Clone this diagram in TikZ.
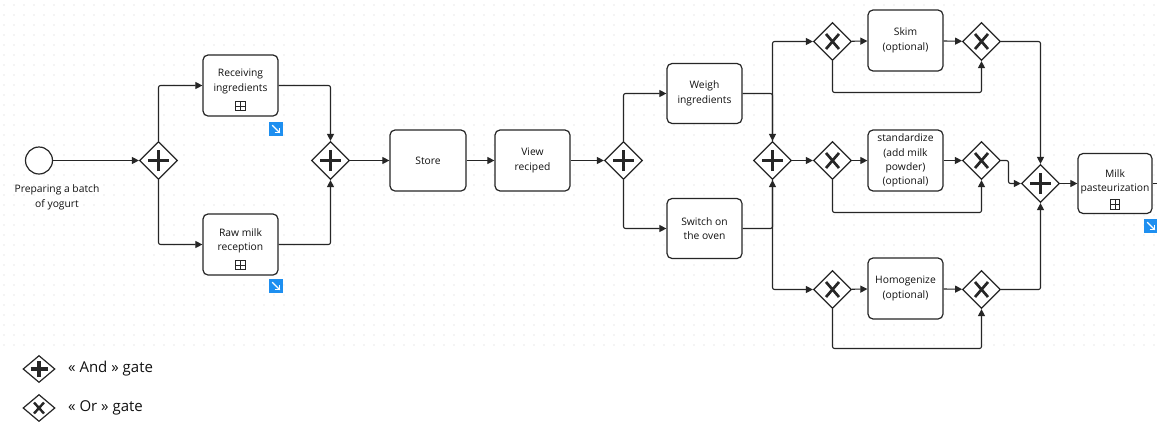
\documentclass[tikz,border=0pt]{standalone}
\usepackage{fontspec}
\setmainfont{Open Sans}
\usetikzlibrary{shapes.geometric,arrows.meta,calc}
\definecolor{ln}{HTML}{262626}
\definecolor{txt}{HTML}{111111}
\definecolor{bpmblue}{HTML}{1E8FF0}
\definecolor{dotc}{HTML}{D2D2D2}
\tikzset{
  task/.style={draw=ln, rounded corners=5pt, line width=1.2pt, minimum width=75, minimum height=61,
    align=center, inner sep=1pt, font=\fontsize{10.3}{14.4}\selectfont, fill=white, text=txt},
  gw/.style={diamond, draw=ln, line width=1.2pt, minimum width=38, minimum height=38, inner sep=0pt, fill=white},
  andgw/.style={gw, path picture={
      \draw[ln, line width=3.4pt] ([xshift=-10.5pt]path picture bounding box.center) -- ([xshift=10.5pt]path picture bounding box.center);
      \draw[ln, line width=3.4pt] ([yshift=-10.5pt]path picture bounding box.center) -- ([yshift=10.5pt]path picture bounding box.center);}},
  xorgw/.style={gw, path picture={
      \draw[ln, line width=2.7pt] ([shift={(-6.5pt,-7.5pt)}]path picture bounding box.center) -- ([shift={(6.5pt,7.5pt)}]path picture bounding box.center);
      \draw[ln, line width=2.7pt] ([shift={(-6.5pt,7.5pt)}]path picture bounding box.center) -- ([shift={(6.5pt,-7.5pt)}]path picture bounding box.center);}},
  legand/.style={diamond, draw=ln, line width=1.2pt, minimum width=32, minimum height=27, inner sep=0pt, fill=white, path picture={
      \draw[ln, line width=3.2pt] ([xshift=-8.5pt]path picture bounding box.center) -- ([xshift=8.5pt]path picture bounding box.center);
      \draw[ln, line width=3.2pt] ([yshift=-8pt]path picture bounding box.center) -- ([yshift=8pt]path picture bounding box.center);}},
  legxor/.style={diamond, draw=ln, line width=1.2pt, minimum width=32, minimum height=27, inner sep=0pt, fill=white, path picture={
      \draw[ln, line width=2.4pt] ([shift={(-5pt,-5.5pt)}]path picture bounding box.center) -- ([shift={(5pt,5.5pt)}]path picture bounding box.center);
      \draw[ln, line width=2.4pt] ([shift={(-5pt,5.5pt)}]path picture bounding box.center) -- ([shift={(5pt,-5.5pt)}]path picture bounding box.center);}},
  subm/.style={draw=ln, line width=0.7pt, minimum size=9.5pt, inner sep=0pt, path picture={
      \draw[ln, line width=0.7pt] (path picture bounding box.north) -- (path picture bounding box.south);
      \draw[ln, line width=0.7pt] (path picture bounding box.west) -- (path picture bounding box.east);}},
  bluem/.style={fill=bpmblue, minimum size=13.5pt, inner sep=0pt, path picture={
      \draw[white, line width=1.1pt] ([shift={(-3.8pt,3.8pt)}]path picture bounding box.center) -- ([shift={(3.8pt,-3.8pt)}]path picture bounding box.center);
      \draw[white, line width=1.1pt] ([shift={(-1.5pt,-3.8pt)}]path picture bounding box.center) -- ([shift={(3.8pt,-3.8pt)}]path picture bounding box.center) -- ([shift={(3.8pt,1.5pt)}]path picture bounding box.center);}},
  flow/.style={draw=ln, line width=1.1pt, rounded corners=2pt, -{Triangle[length=7pt,width=7pt]}},
  plain/.style={draw=ln, line width=1.1pt, rounded corners=2pt},
  evt/.style={circle, draw=ln, line width=1.2pt, minimum size=27pt, inner sep=0pt, fill=white},
  lbl/.style={align=center, font=\fontsize{10.3}{14.4}\selectfont, text=txt, inner sep=0pt},
  legtxt/.style={anchor=west, font=\fontsize{15}{17}\selectfont, text=txt, inner sep=0pt}
}
\begin{document}
\begin{tikzpicture}[x=1pt,y=-1pt]
\useasboundingbox (0,0) rectangle (1157,421);
\fill[white] (0,0) rectangle (1157,421);
% dot grid
\foreach \i in {0,...,115}{\foreach \j in {0,...,34}{\fill[dotc] (\i*10+4,\j*10+5) circle (0.55);}}

% nodes
\node[evt] (start) at (39,160.5) {};
\node[lbl] (startlbl) at (57,197.5) {Preparing a batch\\of yogurt};
\node[andgw] (g1) at (158.5,160.5) {};
\node[task] (recv) at (240.5,85.5) {Receiving\\ingredients\\[-4pt]\phantom{x}};
\node[subm] (m1) at (240.5,106) {};
\node[bluem] (b1) at (276,129) {};
\node[task] (raw) at (240.5,244.5) {Raw milk\\reception\\[-4pt]\phantom{x}};
\node[subm] (m2) at (240.5,265) {};
\node[bluem] (b2) at (276,286) {};
\node[andgw] (g2) at (330.5,160.5) {};
\node[task, minimum width=76] (store) at (428,160.5) {Store};
\node[task] (view) at (532.5,160.5) {View\\reciped};
\node[andgw] (g3) at (623.5,160.5) {};
\node[task, minimum height=60] (weigh) at (704.5,93.5) {Weigh\\ingredients};
\node[task, minimum height=60] (switch) at (704.5,228.5) {Switch on\\the oven};
\node[andgw] (g4) at (772.5,160.5) {};
\node[xorgw] (x1l) at (832.5,41.5) {};
\node[task] (skim) at (905.5,40.5) {Skim\\(optional)};
\node[xorgw] (x1r) at (981.5,41.5) {};
\node[xorgw] (x2l) at (832.5,160.5) {};
\node[task, font=\fontsize{10.3}{14.2}\selectfont] (std) at (905.5,160.5) {standardize\\(add milk\\powder)\\(optional)};
\node[xorgw] (x2r) at (981.5,160.5) {};
\node[xorgw] (x3l) at (832.5,289.5) {};
\node[task] (homo) at (905.5,288.5) {Homogenize\\(optional)};
\node[xorgw] (x3r) at (981.5,289.5) {};
\node[andgw] (g5) at (1040.5,183.5) {};
\node[task, minimum width=74, minimum height=60, inner sep=0pt] (milk) at (1115,183.5) {Milk\\pasteurization\\[-8pt]\phantom{x}};
\node[subm] (m3) at (1115,204.5) {};
\node[bluem] (b3) at (1151,226) {};

\coordinate (by1) at (906,92.5);
\coordinate (by2) at (906,212.5);
\coordinate (by3) at (906,348.5);
\coordinate (k) at (1008.5,183.5);
\coordinate (endc) at (1160,183.5);

% connectors
\draw[flow] (start) -- (g1);
\draw[flow] (g1.north) |- (recv.west);
\draw[flow] (g1.south) |- (raw.west);
\draw[flow] (recv.east) -| (g2.north);
\draw[flow] (raw.east) -| (g2.south);
\draw[flow] (g2) -- (store);
\draw[flow] (store) -- (view);
\draw[flow] (view) -- (g3);
\draw[flow] (g3.north) |- (weigh.west);
\draw[flow] (g3.south) |- (switch.west);
\draw[flow] (weigh.east) -| (g4.north);
\draw[flow] (switch.east) -| (g4.south);
\draw[flow] (g4.north) |- (x1l.west);
\draw[flow] (g4.east) -- (x2l.west);
\draw[flow] (g4.south) |- (x3l.west);
\draw[flow] (x1l) -- (skim);
\draw[flow] (skim) -- (x1r);
\draw[flow] (x1l.south) |- (by1) -| (x1r.south);
\draw[flow] (x2l) -- (std);
\draw[flow] (std) -- (x2r);
\draw[flow] (x2l.south) |- (by2) -| (x2r.south);
\draw[flow] (x3l) -- (homo);
\draw[flow] (homo) -- (x3r);
\draw[flow] (x3l.south) |- (by3) -| (x3r.south);
\draw[flow] (x1r.east) -| (g5.north);
\draw[flow] (x2r.east) -| (k) -- (g5.west);
\draw[flow] (x3r.east) -| (g5.south);
\draw[flow] (g5) -- (milk);
\draw[plain] (milk.east) -- (endc);

% legend
\node[legand] (la) at (39,369) {};
\node[legtxt] (lat) at (68,369) {« And » gate};
\node[legxor] (lo) at (39,408) {};
\node[legtxt] (lot) at (68,408) {« Or » gate};
\end{tikzpicture}
\end{document}
